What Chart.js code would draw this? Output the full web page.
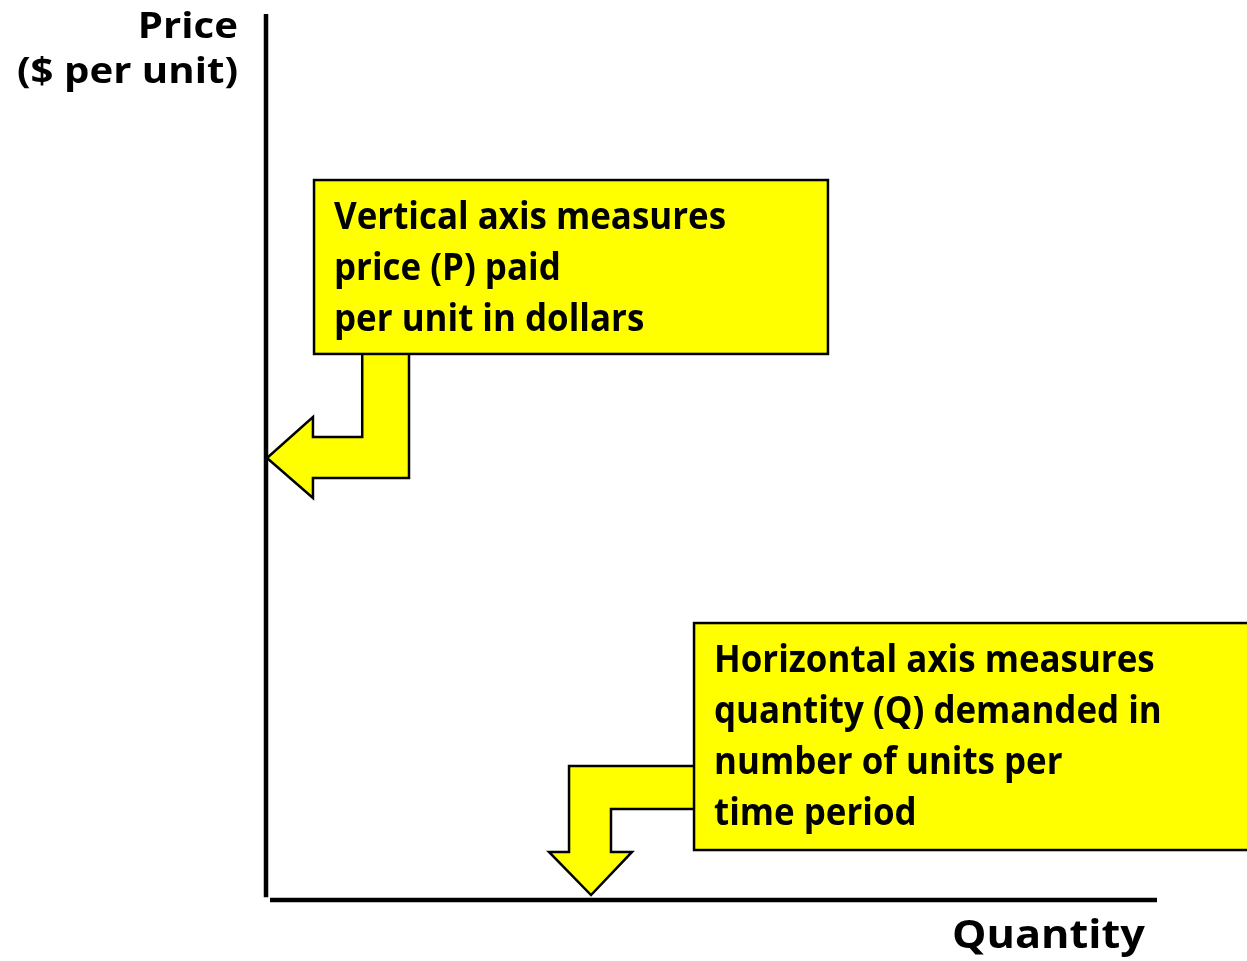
<!DOCTYPE html>
<html lang="en">
<head>
<meta charset="UTF-8">
<title>Price and quantity axes</title>
<script src="https://cdn.jsdelivr.net/npm/chart.js"></script>
<style>
  body { margin: 0; background: #fff; }
  #wrap { width: 1247px; height: 961px; }
</style>
</head>
<body>
<div id="wrap"><canvas id="axes" width="1247" height="961"></canvas></div>
<script>
// axis titles
const yTitle = ['Price', '($ per unit)'];
const xTitle = 'Quantity';

// note texts
const priceNote = ['Vertical axis measures', 'price (P) paid', 'per unit in dollars'];
const qtyNote = ['Horizontal axis measures', 'quantity (Q) demanded in', 'number of units per', 'time period'];

// note boxes, in axis units (0-100 on both axes)
const priceBoxX = [5.39, 63.07];
const priceBoxY = [61.63, 81.26];
const qtyBoxX = [48.04, 112];
const qtyBoxY = [5.64, 31.26];

// bent arrows pointing at the axes
const priceArrowX = [10.8, 16.05, 16.05, 5.27, 5.27, 0.11, 5.27, 5.27, 10.8, 10.8];
const priceArrowY = [62.5, 62.5, 47.63, 47.63, 45.37, 49.89, 54.51, 52.26, 52.26, 62.5];
const qtyArrowX = [49, 34.01, 34.01, 31.76, 36.48, 41.08, 38.72, 38.72, 49, 49];
const qtyArrowY = [15.12, 15.12, 5.42, 5.42, 0.56, 5.42, 5.42, 10.27, 10.27, 15.12];

// the axes themselves
const xAxisX = [0.45, 100];
const xAxisY = [0, 0];
const yAxisX = [0, 0];
const yAxisY = [0.3, 100];

const pts = (xs, ys) => xs.map((x, i) => ({ x: x, y: ys[i] }));

const FONT = '"Open Sans", "DejaVu Sans", sans-serif';

// horizontal squeeze so Open Sans takes up about the room of the original (narrower) face
function fitScale(ctx, str, size, width) {
  ctx.save();
  ctx.font = 'bold ' + size + 'px ' + FONT;
  const w = ctx.measureText(str).width;
  ctx.restore();
  return width / w;
}

function drawText(ctx, str, x, y, size, align, sx) {
  ctx.save();
  ctx.font = 'bold ' + size + 'px ' + FONT;
  ctx.fillStyle = '#000';
  ctx.textAlign = align;
  ctx.textBaseline = 'alphabetic';
  ctx.translate(x, y);
  ctx.scale(sx, 1);
  ctx.fillText(str, 0, 0);
  ctx.restore();
}

const notesPlugin = {
  id: 'notes',
  afterDatasetsDraw(chart) {
    const { ctx, scales: { x, y } } = chart;
    const noteScale = fitScale(ctx, priceNote[0], 37, 392);
    const yTitleScale = fitScale(ctx, yTitle[1], 35, 221);
    const xTitleScale = fitScale(ctx, xTitle, 39, 193);

    const box = (bx, by, lines) => {
      const left = x.getPixelForValue(bx[0]);
      const right = x.getPixelForValue(bx[1]);
      const top = y.getPixelForValue(by[1]);
      const bottom = y.getPixelForValue(by[0]);
      ctx.save();
      ctx.fillStyle = '#FFFF00';
      ctx.strokeStyle = '#000';
      ctx.lineWidth = 2.5;
      ctx.fillRect(left, top, right - left, bottom - top);
      ctx.strokeRect(left, top, right - left, bottom - top);
      ctx.restore();
      lines.forEach((t, i) => drawText(ctx, t, left + 20, top + 49 + i * 51, 37, 'left', noteScale));
    };
    box(priceBoxX, priceBoxY, priceNote);
    box(qtyBoxX, qtyBoxY, qtyNote);

    const x0 = x.getPixelForValue(0);
    const yTop = y.getPixelForValue(100);
    drawText(ctx, yTitle[0], x0 - 28, yTop + 24, 35, 'right', yTitleScale);
    drawText(ctx, yTitle[1], x0 - 28, yTop + 69, 35, 'right', yTitleScale);
    drawText(ctx, xTitle, x.getPixelForValue(100) - 12, y.getPixelForValue(0) + 48, 39, 'right', xTitleScale);
  }
};

const arrowStyle = {
  showLine: true,
  fill: 'shape',
  backgroundColor: '#FFFF00',
  borderColor: '#000',
  borderWidth: 2.5,
  borderJoinStyle: 'miter',
  pointRadius: 0,
  tension: 0,
  clip: false
};
const axisStyle = {
  showLine: true,
  fill: false,
  borderColor: '#000',
  borderWidth: 4.5,
  borderCapStyle: 'butt',
  pointRadius: 0,
  clip: false
};

new Chart(document.getElementById('axes'), {
  type: 'scatter',
  data: {
    datasets: [
      Object.assign({ label: 'y axis', data: pts(yAxisX, yAxisY) }, axisStyle),
      Object.assign({ label: 'x axis', data: pts(xAxisX, xAxisY) }, axisStyle),
      Object.assign({ label: 'price arrow', data: pts(priceArrowX, priceArrowY) }, arrowStyle),
      Object.assign({ label: 'quantity arrow', data: pts(qtyArrowX, qtyArrowY) }, arrowStyle)
    ]
  },
  options: {
    responsive: false,
    animation: false,
    layout: { padding: { left: 266, top: 14, right: 90, bottom: 61 } },
    scales: {
      x: { type: 'linear', min: 0, max: 100, display: false },
      y: { type: 'linear', min: 0, max: 100, display: false }
    },
    plugins: {
      legend: { display: false },
      tooltip: { enabled: false }
    }
  },
  plugins: [notesPlugin]
});
</script>
</body>
</html>
